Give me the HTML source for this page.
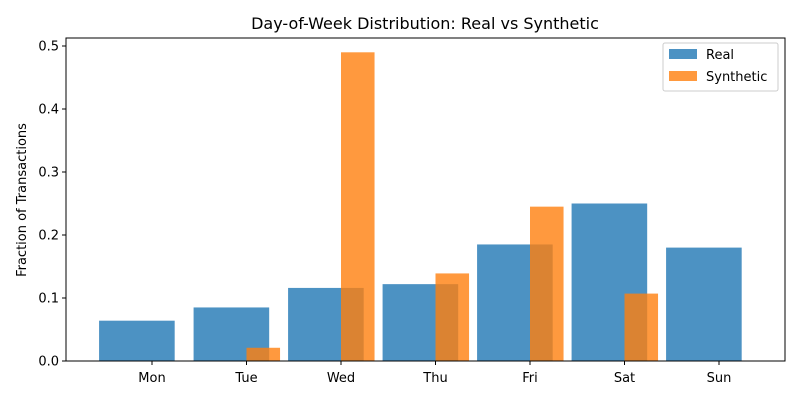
<!DOCTYPE html>
<html><head><meta charset="utf-8"><style>
body{margin:0;background:#fff;}
svg{font-family:"DejaVu Sans","Liberation Sans",sans-serif;}
</style></head><body>
<svg id="chart" width="800" height="400" viewBox="0 0 800 400">
<rect width="800" height="400" fill="#fff"/>
<text x="425" y="29" font-size="16" text-anchor="middle">Day-of-Week Distribution: Real vs Synthetic</text>
<g id="bars"></g>
<g id="axes"></g>
<text transform="translate(26,200) rotate(-90)" font-size="13" text-anchor="middle">Fraction of Transactions</text>
<g>
<rect x="663" y="43" width="115" height="48" fill="#fff" stroke="#ccc" rx="2"/>
<g><rect x="669" y="49" width="28" height="10" fill="#1f77b4" fill-opacity="0.8"/><text x="706" y="59" font-size="13">Real</text></g>
<g><rect x="669" y="71" width="28" height="10" fill="#ff7f0e" fill-opacity="0.8"/><text x="706" y="81" font-size="13">Synthetic</text></g>
</g>
</svg>
<script>
const days=["Mon","Tue","Wed","Thu","Fri","Sat","Sun"];
const realValues=[0.064,0.085,0.116,0.122,0.185,0.25,0.18];
const syntheticValues=[0,0.021,0.49,0.139,0.245,0.107,0];
const yTicks=[0.0,0.1,0.2,0.3,0.4,0.5];
const L=66,R=785,T=38,B=361;
const step=94.5, x0=152;
function xPos(i){return x0+i*step;}
function yPos(v){return B-v*630;}
const ns="http://www.w3.org/2000/svg";
const bars=document.getElementById('bars'),axes=document.getElementById('axes');
function mk(tag,attrs,parent){const e=document.createElementNS(ns,tag);for(const k in attrs)e.setAttribute(k,attrs[k]);parent.appendChild(e);return e;}
days.forEach((d,i)=>{
  const v=realValues[i];
  const r=mk('rect',{x:xPos(i)-0.56*step,y:yPos(v),width:0.8*step,height:B-yPos(v),fill:'#1f77b4','fill-opacity':0.8},bars);
  
  
});
days.forEach((d,i)=>{
  const v=syntheticValues[i];
  const r=mk('rect',{x:xPos(i),y:yPos(v),width:0.355*step,height:B-yPos(v),fill:'#ff7f0e','fill-opacity':0.8},bars);
  
  
});
mk('rect',{x:L,y:T,width:R-L,height:B-T,fill:'none',stroke:'#000','stroke-width':1},axes);
yTicks.forEach(t=>{
  const y=yPos(t);
  mk('line',{x1:L-4,x2:L,y1:y,y2:y,stroke:'#000'},axes);
  const tx=mk('text',{x:L-7,y:y+4.5,'font-size':13,'text-anchor':'end'},axes);
  tx.textContent=t.toFixed(1);
  
  
});
days.forEach((d,i)=>{
  const x=xPos(i);
  mk('line',{x1:x,x2:x,y1:B,y2:B+4,stroke:'#000'},axes);
  const tx=mk('text',{x:x,y:B+21,'font-size':13,'text-anchor':'middle'},axes);
  tx.textContent=d;
  
  
});
</script>
</body></html>
